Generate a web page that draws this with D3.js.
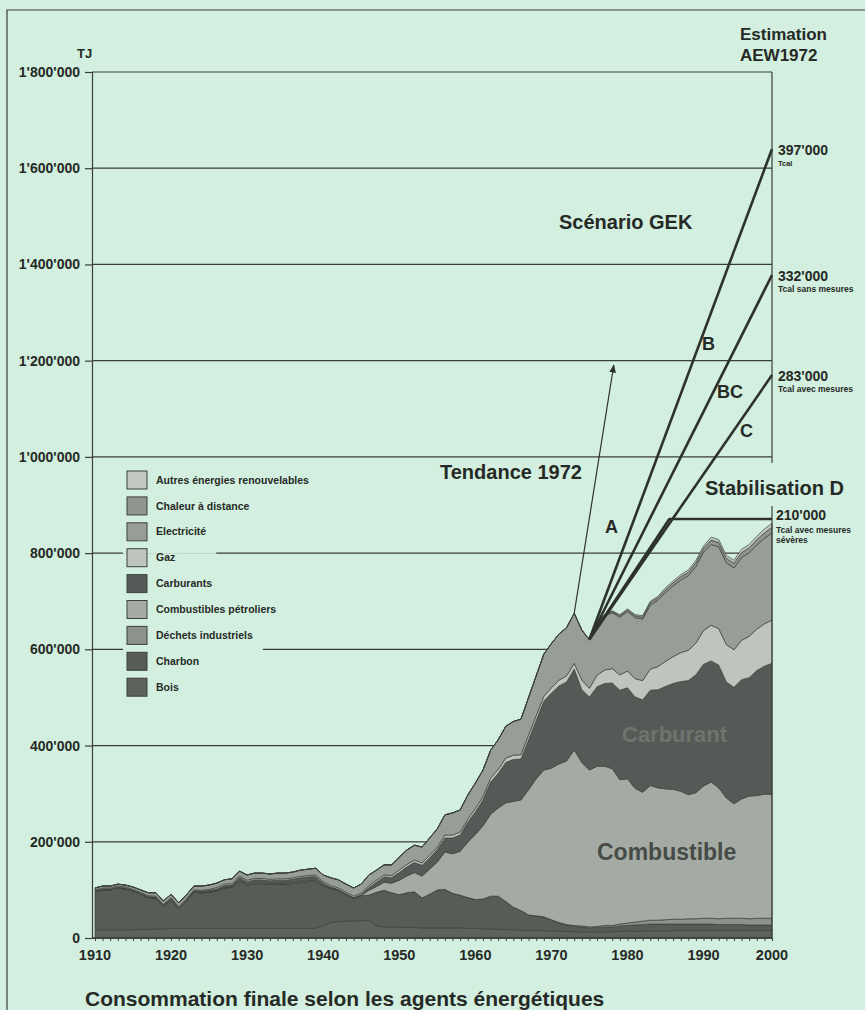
<!DOCTYPE html>
<html>
<head>
<meta charset="utf-8">
<script src="https://cdn.jsdelivr.net/npm/d3@7"></script>
<style>
body { margin: 0; background: #d3efdf; }
svg { display: block; font-family: "Liberation Sans", Arial, Helvetica, sans-serif; font-weight: bold; }
</style>
</head>
<body>
<div id="chart"></div>
<script>
//Width and height
var w = 865;
var h = 1010;

// years shown (the axis stops at 1999, labelled "2000")
var years = d3.range(1910, 2000);

// final consumption per energy carrier, in thousands of TJ (1910 -> 1999)
var bois = [17,17,17,17,17,17,18,18,19,19, 20,20,20,20,20,20,20,20,20,20,
            20,20,20,20,20,20,20,20,20,20, 26,32,34,35,35,36,37,25,23,23,
            22,22,22,21,21,21,21,21,21,20, 20,19,19,18,18,17,17,16,16,15,
            15,14,14,13,13,13,13,13,13,14, 14,14,14,15,15,15,15,16,16,16,
            16,16,16,16,16,16,16,16,16,16];
var charbon = [79,83,83,87,85,80,73,66,64,47, 60,41,57,75,74,75,78,84,85,99,
               90,93,93,91,92,92,93,96,97,98, 82,71,65,55,47,52,52,70,76,71,
               68,72,74,62,70,79,80,72,68,64, 60,62,68,69,58,47,40,32,30,28,
               22,17,13,11,10,8,9,10,10,11, 12,13,14,14,14,14,14,13,13,13,
               13,13,12,12,12,12,11,11,11,11];
var dechets = [0,0,0,0,0,0,0,0,0,0, 0,0,0,0,0,0,0,0,0,0,
               0,0,0,0,0,0,0,0,0,0, 0,0,0,0,0,0,0,0,0,0,
               0,0,0,0,0,0,0,0,0,0, 0,0,0,0,0,0,0,0,0,1,
               1,1,1,2,2,2,2,3,3,4, 5,6,7,8,8,9,10,10,11,11,
               12,12,12,13,13,13,13,14,14,14];
var petrole = [1,1,1,1,1,1,1,1,1,1, 1,1,1,1,1,1,1,1,1,2,
               2,2,2,2,2,2,2,2,2,2, 2,1,1,1,1,1,10,12,17,20,
               30,35,40,46,52,58,78,82,91,115, 135,152,170,183,205,220,230,260,285,305,
               315,330,340,365,340,326,333,331,326,300, 300,278,268,280,275,272,270,266,258,262,
               275,283,272,250,238,248,255,255,258,258];
var carburants = [1,1,1,1,1,1,1,1,1,1, 1,1,1,2,2,3,3,4,4,5,
                  5,6,6,6,6,6,7,7,8,8, 4,2,1,1,1,1,6,9,11,12,
                  16,19,21,22,24,26,29,33,34,42, 47,54,67,72,84,87,85,104,121,143,
                  156,162,164,168,151,152,165,172,178,186, 189,190,192,198,204,213,220,228,237,245,
                  253,252,255,241,242,248,246,260,266,272];
var gaz = [2,2,2,2,2,2,2,2,2,2, 2,2,2,2,2,2,3,3,3,3,
           3,3,3,3,3,3,3,3,3,3, 3,3,3,3,3,3,4,4,4,4,
           5,5,5,5,5,5,6,6,6,6, 7,7,8,8,9,9,9,10,10,10,
           11,12,13,12,20,18,24,28,30,32, 35,38,40,44,48,52,56,60,63,66,
           70,74,76,78,78,82,86,86,88,90];
var electricite = [4,4,4,4,4,5,5,6,7,7, 7,8,8,8,9,9,9,9,10,10,
                   11,11,11,11,12,12,12,13,13,14, 14,16,17,17,17,19,22,21,21,22,
                   27,30,31,33,36,38,42,46,46,50, 53,55,58,62,66,70,74,78,83,88,
                   92,96,100,104,104,100,108,112,116,120, 124,127,128,133,138,143,147,151,155,159,
                   163,168,170,170,170,172,174,175,178,181];
var chaleur = [0,0,0,0,0,0,0,0,0,0, 0,0,0,0,0,0,0,0,0,0,
               0,0,0,0,0,0,0,0,0,0, 0,0,0,0,0,0,0,0,0,0,
               0,0,0,0,0,0,0,0,0,0, 0,0,0,0,0,0,0,0,0,0,
               0,0,0,0,0,1,2,2,3,3, 3,4,4,5,5,6,6,7,7,8,
               8,9,9,9,10,10,10,11,11,12];
var autres = [0,0,0,0,0,0,0,0,0,0, 0,0,0,0,0,0,0,0,0,0,
              0,0,0,0,0,0,0,0,0,0, 0,0,0,0,0,0,0,0,0,0,
              0,0,0,0,0,0,0,0,0,0, 0,0,0,0,0,0,0,0,0,0,
              0,0,0,0,0,1,1,1,1,2, 2,2,3,3,3,4,4,4,5,5,
              5,6,6,6,6,7,7,7,8,8];

// stacking order, bottom to top
var keys = ["bois", "charbon", "dechets", "petrole", "carburants", "gaz", "electricite", "chaleur", "autres"];
var series = { bois: bois, charbon: charbon, dechets: dechets, petrole: petrole, carburants: carburants,
               gaz: gaz, electricite: electricite, chaleur: chaleur, autres: autres };
var names = { autres: "Autres énergies renouvelables", chaleur: "Chaleur à distance", electricite: "Electricité",
              gaz: "Gaz", carburants: "Carburants", petrole: "Combustibles pétroliers",
              dechets: "Déchets industriels", charbon: "Charbon", bois: "Bois" };
var colors = { bois: "#5d625d", charbon: "#575c57", dechets: "#8c928c", petrole: "#a4aaa4", carburants: "#565a56",
               gaz: "#bec5be", electricite: "#979d97", chaleur: "#90968f", autres: "#c3c9c3" };

// scenarios to 2000 (TJ), starting from 1975
var scenStartYear = 1975;
var scenEnds = [1640000, 1378000, 1170000];
var scenLabels = [["397'000", "Tcal"], ["332'000", "Tcal sans mesures"], ["283'000", "Tcal avec mesures"]];
var stabD = [[1985.5, 871000], [1999, 871000]];
var tendanceEnd = [1978.2, 1191000];
var tendanceStartYear = 1973;

var yTicks = d3.range(0, 1800001, 200000);
var decades = d3.range(1910, 2000, 10);

var bg = "#d3efdf";
var ink = "#262a26";

// table for the stack
var rows = years.map(function(yr, i) {
	var r = { year: yr };
	keys.forEach(function(k) { r[k] = series[k][i]; });
	return r;
});
function totalAt(yr) {
	var i = years.indexOf(yr);
	return d3.sum(keys, function(k) { return series[k][i]; }) * 1000;
}

var x = d3.scaleLinear().domain([1910, 1999]).range([95, 772]);
var y = d3.scaleLinear().domain([0, 1800000]).range([938, 72]);

var svg = d3.select("#chart")
	.append("svg")
	.attr("width", w)
	.attr("height", h);

svg.append("rect").attr("width", w).attr("height", h).attr("fill", bg);

// frame (top and left only, the rest runs off the page)
svg.append("path")
	.attr("d", "M7,1010 V10 H865")
	.attr("fill", "none")
	.attr("stroke", "#3a3e3a")
	.attr("stroke-width", 1.2);

// gridlines
svg.selectAll(".grid")
	.data(yTicks)
	.enter()
	.append("line")
	.attr("class", "grid")
	.attr("x1", 92)
	.attr("x2", x(1999))
	.attr("y1", function(d) { return y(d); })
	.attr("y2", function(d) { return y(d); })
	.attr("stroke", "#3a3e3a")
	.attr("stroke-width", 1.2);

// y axis
var yAxis = d3.axisLeft(y)
	.tickValues(yTicks)
	.tickSize(7)
	.tickPadding(5)
	.tickFormat(function(d) { return d3.format(",")(d).replace(/,/g, "'"); });
var gy = svg.append("g").attr("transform", "translate(92,0)").call(yAxis);
gy.select(".domain").attr("stroke", "#3a3e3a").attr("stroke-width", 1.2);
gy.selectAll(".tick line").attr("stroke", "#3a3e3a").attr("stroke-width", 1.2);
gy.selectAll("text")
	.attr("font-size", "14px")
	.attr("font-family", "Liberation Sans, Arial, sans-serif")
	.attr("font-weight", "bold")
	.attr("fill", ink);

// stacked areas
var stack = d3.stack().keys(keys);
var layers = stack(rows);
var area = d3.area()
	.x(function(d) { return x(d.data.year); })
	.y0(function(d) { return y(d[0] * 1000); })
	.y1(function(d) { return y(d[1] * 1000); });

svg.selectAll(".layer")
	.data(layers)
	.enter()
	.append("path")
	.attr("class", "layer")
	.attr("d", area)
	.attr("fill", function(d) { return colors[d.key]; })
	.attr("stroke", "#3c403c")
	.attr("stroke-width", 0.7)
	.attr("stroke-linejoin", "round");

// x axis: yearly ticks
var xAxis = d3.axisBottom(x)
	.tickValues(years)
	.tickSize(3)
	.tickFormat("");
var gx = svg.append("g").attr("transform", "translate(0," + y(0) + ")").call(xAxis);
gx.select(".domain").remove();
gx.selectAll(".tick line").attr("stroke", "#3a3e3a");
svg.append("line")
	.attr("x1", 92).attr("x2", x(1999))
	.attr("y1", y(0)).attr("y2", y(0))
	.attr("stroke", "#3a3e3a").attr("stroke-width", 1.4);

svg.selectAll(".xlab")
	.data(decades.concat([1999]))
	.enter()
	.append("text")
	.attr("class", "xlab")
	.attr("x", function(d) { return x(d); })
	.attr("y", 960)
	.attr("text-anchor", "middle")
	.attr("font-size", "14.5px")
	.attr("fill", ink)
	.text(function(d) { return d == 1999 ? "2000" : d; });

// right edge line (with a gap for "Stabilisation D")
svg.append("line")
	.attr("x1", x(1999)).attr("x2", x(1999))
	.attr("y1", y(1800000)).attr("y2", 463)
	.attr("stroke", "#3a3e3a").attr("stroke-width", 1.2);
svg.append("line")
	.attr("x1", x(1999)).attr("x2", x(1999))
	.attr("y1", 506).attr("y2", y(0))
	.attr("stroke", "#3a3e3a").attr("stroke-width", 1.2);

// legend
var legendKeys = keys.slice().reverse();
var legend = svg.selectAll(".legend")
	.data(legendKeys)
	.enter()
	.append("g")
	.attr("class", "legend")
	.attr("transform", function(d, i) { return "translate(127," + (480 + i * 25.9) + ")"; });

legend.append("rect")
	.attr("class", "mask")
	.attr("x", -4)
	.attr("y", -4)
	.attr("height", 26)
	.attr("fill", bg);

legend.append("rect")
	.attr("x", 0)
	.attr("y", -9)
	.attr("width", 20)
	.attr("height", 18)
	.attr("fill", function(d) { return colors[d]; })
	.attr("stroke", "#3c403c")
	.attr("stroke-width", 1);

legend.append("text")
	.attr("x", 29)
	.attr("dy", "0.35em")
	.attr("font-size", "10.5px")
	.attr("fill", ink)
	.text(function(d) { return names[d]; });

legend.each(function() {
	var g = d3.select(this);
	var tw = g.select("text").node().getComputedTextLength();
	g.select(".mask").attr("width", 29 + tw + 14);
});

// scenario lines
var line = d3.line()
	.x(function(d) { return x(d[0]); })
	.y(function(d) { return y(d[1]); });

var start = [scenStartYear, totalAt(scenStartYear)];

svg.selectAll(".scen")
	.data(scenEnds)
	.enter()
	.append("path")
	.attr("class", "scen")
	.attr("d", function(d) { return line([start, [1999, d]]); })
	.attr("fill", "none")
	.attr("stroke", "#2e322e")
	.attr("stroke-width", 2.6);

svg.append("path")
	.attr("d", line([start].concat(stabD)))
	.attr("fill", "none")
	.attr("stroke", "#2e322e")
	.attr("stroke-width", 2.6)
	.attr("stroke-linejoin", "round");

// trend 1972 arrow
svg.append("defs").append("marker")
	.attr("id", "arrow")
	.attr("viewBox", "0 0 10 10")
	.attr("refX", 9)
	.attr("refY", 5)
	.attr("markerWidth", 7)
	.attr("markerHeight", 7)
	.attr("orient", "auto")
	.append("path")
	.attr("d", "M0,1 L10,5 L0,9 Z")
	.attr("fill", "#2e322e");

svg.append("path")
	.attr("d", line([[tendanceStartYear, totalAt(tendanceStartYear)], tendanceEnd]))
	.attr("fill", "none")
	.attr("stroke", "#2e322e")
	.attr("stroke-width", 1.2)
	.attr("marker-end", "url(#arrow)");

// scenario end values
scenEnds.forEach(function(v, i) {
	svg.append("text")
		.attr("x", x(1999) + 6)
		.attr("y", y(v) + 6)
		.attr("font-size", "14px")
		.attr("fill", ink)
		.text(scenLabels[i][0]);
	svg.append("text")
		.attr("x", x(1999) + 6)
		.attr("y", y(v) + 17)
		.attr("font-size", i == 0 ? "7.5px" : "8.5px")
		.attr("fill", ink)
		.text(scenLabels[i][1]);
});
svg.append("text").attr("x", x(1999) + 4).attr("y", y(stabD[1][1]) + 1)
	.attr("font-size", "14px").attr("fill", ink).text("210'000");
svg.append("text").attr("x", x(1999) + 4).attr("y", y(stabD[1][1]) + 14)
	.attr("font-size", "8.5px").attr("fill", ink).text("Tcal avec mesures");
svg.append("text").attr("x", x(1999) + 4).attr("y", y(stabD[1][1]) + 24)
	.attr("font-size", "8.5px").attr("fill", ink).text("sévères");

// other labels
var labels = [
	["TJ", 77, 58, 13, ink],
	["Estimation", 740, 40, 17, ink],
	["AEW1972", 740, 61, 17, ink],
	["Scénario GEK", 559, 229, 20, ink],
	["Tendance 1972", 440, 479, 20, ink],
	["Stabilisation D", 705, 495, 20, ink],
	["A", 605, 533, 18, ink],
	["B", 702, 350, 18, ink],
	["BC", 717, 398, 18, ink],
	["C", 740, 437, 18, ink],
	["Carburant", 622, 742, 22, "#6f746f"],
	["Combustible", 597, 860, 23, "#474b47"],
	["Consommation finale selon les agents énergétiques", 85, 1006, 21, ink]
];
svg.selectAll(".lab")
	.data(labels)
	.enter()
	.append("text")
	.attr("class", "lab")
	.attr("x", function(d) { return d[1]; })
	.attr("y", function(d) { return d[2]; })
	.attr("font-size", function(d) { return d[3] + "px"; })
	.attr("fill", function(d) { return d[4]; })
	.text(function(d) { return d[0]; });
</script>
</body>
</html>
